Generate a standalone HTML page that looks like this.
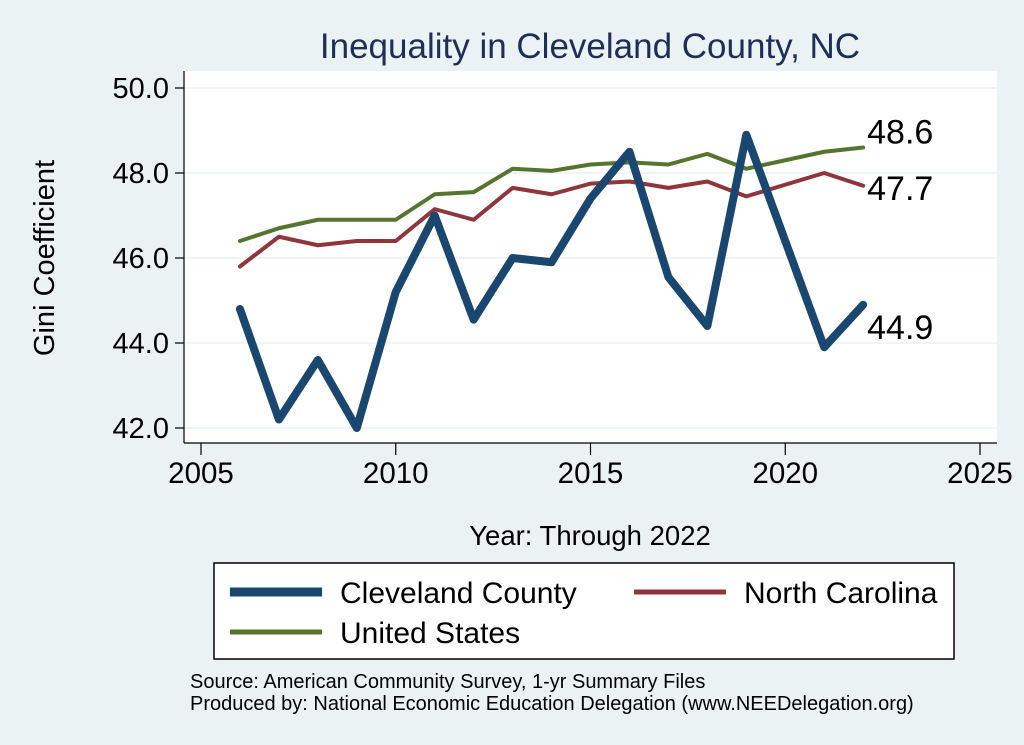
<!DOCTYPE html>
<html><head><meta charset="utf-8"><style>
body{margin:0;background:#eaf2f3;}
svg{display:block;font-family:"Liberation Sans",sans-serif;}
</style></head><body>
<svg width="1024" height="745" viewBox="0 0 1024 745">
<rect x="0" y="0" width="1024" height="745" fill="#eaf2f3"/>
<rect x="184" y="71" width="813" height="372" fill="#ffffff"/>
<text x="590" y="58" text-anchor="middle" font-size="35" fill="#1e2d5a">Inequality in Cleveland County, NC</text>
<g id="grid"></g>
<g id="axes"></g>
<g id="series"></g>
<text x="54" y="258" text-anchor="middle" font-size="29" transform="rotate(-90 54 258)">Gini Coefficient</text>
<text x="590" y="545" text-anchor="middle" font-size="27.5">Year: Through 2022</text>
<g>
<rect x="214" y="563" width="740" height="96" fill="#ffffff" stroke="#000" stroke-width="1.5"/>
<line x1="230" y1="592" x2="322" y2="592" stroke="#1a476f" stroke-width="9"/>
<text x="340" y="603" font-size="30">Cleveland County</text>
<line x1="634" y1="592" x2="726" y2="592" stroke="#90353b" stroke-width="5"/>
<text x="744" y="603" font-size="30">North Carolina</text>
<line x1="230" y1="632" x2="322" y2="632" stroke="#55752f" stroke-width="5"/>
<text x="340" y="643" font-size="30">United States</text>
</g>
<text x="190" y="688" font-size="20">Source: American Community Survey, 1-yr Summary Files</text>
<text x="190" y="710" font-size="20">Produced by: National Economic Education Delegation (www.NEEDelegation.org)</text>
</svg>
<script>
const years=[2006,2007,2008,2009,2010,2011,2012,2013,2014,2015,2016,2017,2018,2019,2021,2022];
const cleveland=[44.8,42.2,43.6,42.0,45.2,47.0,44.55,46.0,45.9,47.4,48.5,45.55,44.4,48.9,43.9,44.9];
const northCarolina=[45.8,46.5,46.3,46.4,46.4,47.15,46.9,47.65,47.5,47.75,47.8,47.65,47.8,47.45,48.0,47.7];
const unitedStates=[46.4,46.7,46.9,46.9,46.9,47.5,47.55,48.1,48.05,48.2,48.25,48.2,48.45,48.1,48.5,48.6];
const xTicks=[2005,2010,2015,2020,2025];
const yTicks=[42,44,46,48,50];
const NS="http://www.w3.org/2000/svg";
const xs=v=>201+(v-2005)*(779/20);
const ys=v=>428-(v-42)*42.5;
function mk(t,a,p){const e=document.createElementNS(NS,t);for(const k in a)e.setAttribute(k,a[k]);p.appendChild(e);return e;}
const grid=document.getElementById('grid'),axes=document.getElementById('axes'),ser=document.getElementById('series');
yTicks.forEach(v=>{
 const g=mk('line',{x1:184,x2:997,y1:ys(v),y2:ys(v),stroke:'#eaf2f3','stroke-width':1.5},grid);
 
 
 const t=mk('line',{x1:175,x2:184,y1:ys(v),y2:ys(v),stroke:'#000','stroke-width':1.2},axes);
 
 
 const l=mk('text',{x:169,y:ys(v)+10,'text-anchor':'end','font-size':29},axes);
 l.textContent=v.toFixed(1);
 
 
});
xTicks.forEach(v=>{
 const t=mk('line',{x1:xs(v),x2:xs(v),y1:443,y2:455,stroke:'#000','stroke-width':1.2},axes);
 
 
 const l=mk('text',{x:xs(v),y:483,'text-anchor':'middle','font-size':29.5},axes);
 l.textContent=v;
 
 
});
const ya=mk('line',{x1:184,x2:184,y1:71,y2:443,stroke:'#000','stroke-width':1.2},axes);


const xa=mk('line',{x1:184,x2:997,y1:443,y2:443,stroke:'#000','stroke-width':1.2},axes);


function draw(vals,color,w,name,dy){
 const pts=years.map((y,i)=>xs(y)+','+ys(vals[i])).join(' ');
 const p=mk('polyline',{points:pts,fill:'none',stroke:color,'stroke-width':w,'stroke-linejoin':'round','stroke-linecap':'round'},ser);
 
 
 const last=vals[vals.length-1];
 const l=mk('text',{x:xs(years[years.length-1])+4,y:ys(last)+dy,'font-size':34},ser);
 l.textContent=last.toFixed(1);
 
 
}
draw(unitedStates,'#55752f',4,'united-states',-4);
draw(northCarolina,'#90353b',4,'north-carolina',14);
draw(cleveland,'#1a476f',8,'cleveland-county',34);
</script>
</body></html>
